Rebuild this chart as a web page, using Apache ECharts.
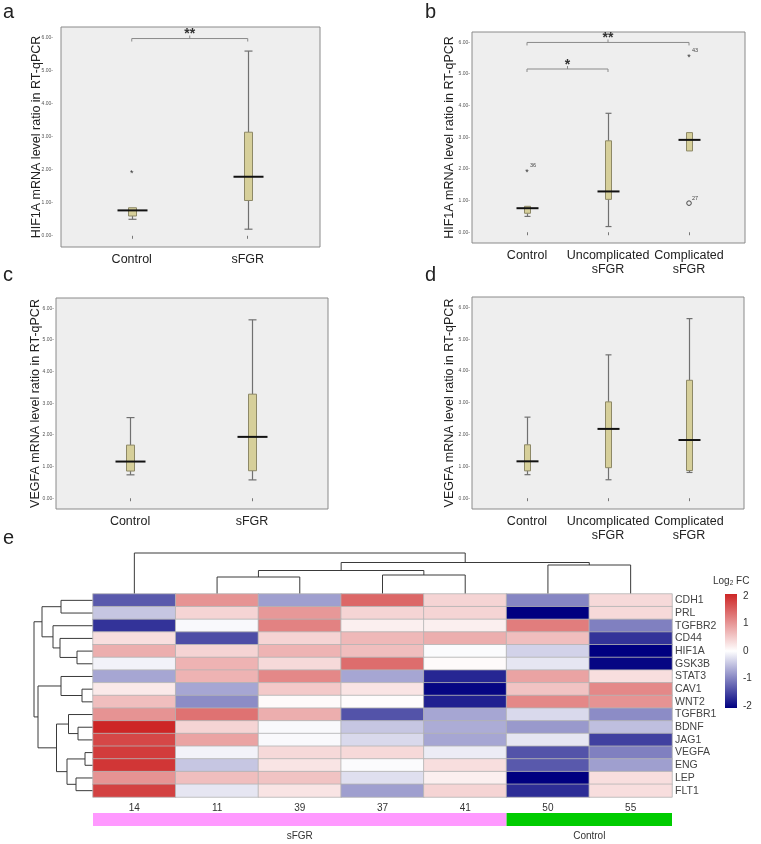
<!DOCTYPE html>
<html>
<head>
<meta charset="utf-8">
<script src="https://cdn.jsdelivr.net/npm/echarts@6/dist/echarts.min.js"></script>
<style>
html,body{margin:0;padding:0;background:#fff;}
#main{width:761px;height:844px;}
</style>
</head>
<body>
<div id="main"></div>
<script>
// ---- boxplot data: [min, Q1, median, Q3, max] ----
var cats2 = ['Control', 'sFGR'];
var cats3 = ['Control', 'Uncomplicated\nsFGR', 'Complicated\nsFGR'];
var hifBox2 = [[0.5, 0.6, 0.77, 0.85, 0.85], [0.2, 1.07, 1.79, 3.14, 5.6]];
var hifBox3 = [[0.5, 0.6, 0.76, 0.82, 0.82], [0.18, 1.04, 1.29, 2.89, 3.76], [2.57, 2.57, 2.92, 3.15, 3.15]];
var vegfBox2 = [[0.74, 0.86, 1.16, 1.68, 2.55], [0.58, 0.87, 1.94, 3.29, 5.64]];
var vegfBox3 = [[0.74, 0.86, 1.16, 1.68, 2.55], [0.58, 0.96, 2.18, 3.03, 4.51], [0.81, 0.87, 1.83, 3.71, 5.65]];
// outliers: [group, value, mark, case no.]
var hifOut2 = [[1, 1.95, '*', '']];
var hifOut3 = [[1, 1.95, '*', '36'], [3, 5.6, '*', '43'], [3, 0.92, 'o', '27']];
// significance brackets: [from, to, level, stars]
var hifSig2 = [[1, 2, 5.98, '**']];
var hifSig3 = [[1, 3, 6.0, '**'], [1, 2, 5.16, '*']];
var yTicks = [0, 1, 2, 3, 4, 5, 6];

// ---- heatmap data ----
var samples = ['14', '11', '39', '37', '41', '50', '55'];
var genes = ['CDH1', 'PRL', 'TGFBR2', 'CD44', 'HIF1A', 'GSK3B', 'STAT3', 'CAV1', 'WNT2',
  'TGFBR1', 'BDNF', 'JAG1', 'VEGFA', 'ENG', 'LEP', 'FLT1'];
var log2fc = [
  [-1.3, 1.0, -0.75, 1.4, 0.4, -0.95, 0.35],
  [-0.45, 0.4, 0.95, 0.4, 0.4, -2.0, 0.35],
  [-1.6, -0.05, 1.15, 0.15, 0.15, 1.2, -1.0],
  [0.3, -1.4, 0.4, 0.65, 0.75, 0.6, -1.6],
  [0.75, 0.4, 0.7, 0.6, -0.03, -0.35, -2.0],
  [-0.1, 0.7, 0.35, 1.35, 0.05, -0.2, -1.95],
  [-0.7, 0.7, 1.1, -0.7, -1.7, 0.85, 0.3],
  [0.2, -0.7, 0.5, 0.25, -1.95, 0.55, 1.1],
  [0.6, -0.9, 0.05, 0.03, -1.75, 1.1, 1.0],
  [1.0, 1.3, 0.75, -1.35, -0.7, -0.3, -0.9],
  [2.0, 0.4, -0.05, -0.45, -0.65, -0.8, -0.5],
  [1.7, 0.85, -0.05, -0.3, -0.7, -0.2, -1.5],
  [1.8, -0.1, 0.35, 0.35, -0.15, -1.35, -1.0],
  [1.85, -0.45, 0.25, -0.03, 0.3, -1.3, -0.75],
  [1.0, 0.6, 0.55, -0.25, 0.15, -2.0, 0.3],
  [1.75, -0.2, 0.25, -0.75, 0.4, -1.65, 0.3]
];
var groupNames = ['sFGR', 'Control'];
var groupSpans = [[0, 5], [5, 7]];
var groupColors = ['#ff99ff', '#00cc00'];
// hclust-style merges: negative = leaf (1-based), positive = earlier merge; [a, b, height]
var rowMerges = [[-13, -14, 8], [-8, -9, 11], [-11, -12, 15], [-5, -6, 16], [-15, -16, 17],
  [-10, 3, 24.5], [1, 5, 26], [-1, -2, 32], [-7, 2, 32], [-4, 4, 33], [6, 7, 36.5],
  [-3, 10, 40], [8, 12, 51], [9, 11, 55], [13, 14, 59]];
var colMerges = [[-2, -3, 17], [-4, -5, 19], [1, 2, 23.5], [-6, -7, 29], [3, 4, 31.5], [-1, 5, 41]];
var legendTicks = [-2, -1, 0, 1, 2];

var FONT = 'Liberation Sans, Arial, Helvetica, sans-serif';
var myChart = echarts.init(document.getElementById('main'), null, {renderer: 'canvas'});

function toRows(box) {
  return box.map(function (b, i) { return [i + 1].concat(b); });
}

//箱线图
function boxRender(boxW, medW) {
  return function (params, api) {
    var x = api.value(0);
    var lo = api.coord([x, api.value(1)]), q1 = api.coord([x, api.value(2)]);
    var md = api.coord([x, api.value(3)]), q3 = api.coord([x, api.value(4)]);
    var hi = api.coord([x, api.value(5)]);
    var cx = Math.round(lo[0]) + 0.5;
    var wStyle = {stroke: '#707070', lineWidth: 1.2};
    var ch = [];
    if (hi[1] < q3[1] - 0.5) {
      ch.push({type: 'line', shape: {x1: cx, y1: hi[1], x2: cx, y2: q3[1]}, style: wStyle});
      ch.push({type: 'line', shape: {x1: cx - boxW / 2, y1: hi[1], x2: cx + boxW / 2, y2: hi[1]}, style: wStyle});
    }
    if (lo[1] > q1[1] + 0.5) {
      ch.push({type: 'line', shape: {x1: cx, y1: q1[1], x2: cx, y2: lo[1]}, style: wStyle});
      ch.push({type: 'line', shape: {x1: cx - boxW / 2, y1: lo[1], x2: cx + boxW / 2, y2: lo[1]}, style: wStyle});
    }
    ch.push({type: 'rect', shape: {x: cx - boxW / 2, y: q3[1], width: boxW, height: q1[1] - q3[1]},
      style: {fill: '#d6cf9a', stroke: '#8d8866', lineWidth: 1}});
    ch.push({type: 'line', shape: {x1: cx - medW / 2, y1: md[1], x2: cx + medW / 2, y2: md[1]},
      style: {stroke: '#111', lineWidth: 2}});
    return {type: 'group', children: ch};
  };
}

function outRender(list) {
  return function (params, api) {
    var o = list[params.dataIndex];
    var p = api.coord([o[0], o[1]]);
    var ch = [];
    if (o[2] === 'o') {
      ch.push({type: 'circle', shape: {cx: p[0], cy: p[1], r: 2.3}, style: {fill: 'none', stroke: '#444', lineWidth: 1}});
    } else {
      ch.push({type: 'text', x: p[0], y: p[1] + 2, style: {text: '*', fontSize: 9, fontFamily: FONT, fill: '#333', align: 'center', verticalAlign: 'middle'}});
    }
    if (o[3]) {
      ch.push({type: 'text', x: p[0] + 3, y: p[1] - 2, style: {text: o[3], fontSize: 5.5, fontFamily: FONT, fill: '#444', align: 'left', verticalAlign: 'bottom'}});
    }
    return {type: 'group', children: ch};
  };
}

function sigRender(list) {
  return function (params, api) {
    var s = list[params.dataIndex];
    var p1 = api.coord([s[0], s[2]]), p2 = api.coord([s[1], s[2]]);
    var mx = (p1[0] + p2[0]) / 2;
    var st = {stroke: '#8a8a8a', lineWidth: 1, fill: 'none'};
    return {type: 'group', children: [
      {type: 'polyline', shape: {points: [[p1[0], p1[1] + 3], [p1[0], p1[1]], [p2[0], p2[1]], [p2[0], p2[1] + 3]]}, style: st},
      {type: 'line', shape: {x1: mx, y1: p1[1], x2: mx, y2: p1[1] - 3}, style: st},
      {type: 'text', x: mx, y: p1[1] + 3, style: {text: s[3], fontSize: 14, fontWeight: 'bold', fontFamily: FONT, fill: '#333', align: 'center', verticalAlign: 'bottom'}}
    ]};
  };
}

function boxGrid(left, top, width, height) {
  return {left: left, top: top, width: width, height: height, show: true,
    backgroundColor: '#eeeeee', borderColor: '#8a8a8a', borderWidth: 1};
}

function boxXAxis(gi, mn, mx, cats) {
  var vals = cats.map(function (c, i) { return i + 1; });
  return {gridIndex: gi, type: 'value', min: mn, max: mx,
    axisLine: {show: false}, splitLine: {show: false},
    axisTick: {show: true, customValues: vals, length: 3, lineStyle: {color: '#777'}},
    axisLabel: {customValues: vals, formatter: function (v) { return cats[Math.round(v) - 1]; },
      fontSize: 12.5, color: '#222', margin: 6, lineHeight: 14, fontFamily: FONT}};
}

function boxYAxis(gi, name, gap, labelMargin) {
  return {gridIndex: gi, type: 'value', min: -0.34, max: 6.33,
    axisLine: {show: false}, splitLine: {show: false}, axisTick: {show: false},
    axisLabel: {customValues: yTicks, formatter: function (v) { return v.toFixed(2) + '-'; },
      fontSize: 5, color: '#555', margin: labelMargin, fontFamily: FONT},
    name: name, nameLocation: 'middle', nameGap: gap, nameMoveOverlap: false,
    nameTextStyle: {fontSize: 12.5, color: '#222', fontFamily: FONT}};
}

function $each(arr, fn) { for (var i = 0; i < arr.length; i++) fn(arr[i], i); }

function dendroSegments(merges) {
  var pos = [], ht = [], segs = [];
  function get(id) { return id < 0 ? [-id - 0.5, 0] : [pos[id - 1], ht[id - 1]]; }
  $each(merges, function (m, k) {
    var a = get(m[0]), b = get(m[1]);
    segs.push([a[0], a[1], b[0], b[1], m[2]]);
    pos[k] = (a[0] + b[0]) / 2;
    ht[k] = m[2];
  });
  return segs;
}

function dendroRender(rowWise) {
  return function (params, api) {
    var pa = api.value(0), ha = api.value(1), pb = api.value(2), hb = api.value(3), h = api.value(4);
    function c(p, hh) { return api.coord(rowWise ? [hh, p] : [p, hh]); }
    return {type: 'polyline', shape: {points: [c(pa, ha), c(pa, h), c(pb, h), c(pb, hb)]},
      style: {stroke: '#3a3a3a', lineWidth: 1, fill: 'none'}};
  };
}

var heatData = [];
$each(log2fc, function (row, r) {
  $each(row, function (v, c) { heatData.push([c, r, v]); });
});

var letterStyle = {fontSize: 20, fontWeight: 'normal', color: '#222', fontFamily: FONT};

var option = {
  animation: false,
  backgroundColor: '#fff',
  textStyle: {fontFamily: FONT},
  title: [
    {text: 'a', left: 3, top: 2, padding: 0, textStyle: letterStyle},
    {text: 'b', left: 425, top: 2, padding: 0, textStyle: letterStyle},
    {text: 'c', left: 3, top: 265, padding: 0, textStyle: letterStyle},
    {text: 'd', left: 425, top: 265, padding: 0, textStyle: letterStyle},
    {text: 'e', left: 3, top: 528, padding: 0, textStyle: letterStyle},
    {text: 'Log{s|2} FC', left: 713, top: 575, padding: 0,
      textStyle: {fontSize: 10, fontWeight: 'normal', color: '#333', fontFamily: FONT,
        rich: {s: {fontSize: 6.5, verticalAlign: 'bottom', padding: [5, 0, 0, 0], fontFamily: FONT, color: '#333'}}}}
  ],
  grid: [
    boxGrid(61, 27, 259, 220),
    boxGrid(472, 32, 273, 211),
    boxGrid(56, 298, 272, 211),
    boxGrid(472, 297, 272, 212),
    {left: 93, top: 594, width: 579, height: 203},
    {left: 34, top: 594, width: 59, height: 203},
    {left: 93, top: 553, width: 579, height: 41},
    {left: 93, top: 813, width: 579, height: 13},
    {left: 725, top: 594, width: 12, height: 114}
  ],
  xAxis: [
    boxXAxis(0, 0.39, 2.623, cats2),
    boxXAxis(1, 0.321, 3.691, cats3),
    boxXAxis(2, 0.393, 2.623, cats2),
    boxXAxis(3, 0.321, 3.679, cats3),
    {gridIndex: 4, type: 'category', data: samples, position: 'bottom',
      axisLine: {show: false}, axisTick: {show: false},
      axisLabel: {interval: 0, fontSize: 10, color: '#333', margin: 6}},
    {gridIndex: 5, type: 'value', min: 0, max: 59, inverse: true, show: false},
    {gridIndex: 6, type: 'value', min: 0, max: 7, show: false},
    {gridIndex: 7, type: 'value', min: 0, max: 7, show: false},
    {gridIndex: 8, type: 'value', min: 0, max: 1, show: false}
  ],
  yAxis: [
    boxYAxis(0, 'HIF1A mRNA level ratio in RT-qPCR', 18, 8),
    boxYAxis(1, 'HIF1A mRNA level ratio in RT-qPCR', 16, 2),
    boxYAxis(2, 'VEGFA mRNA level ratio in RT-qPCR', 14, 2),
    boxYAxis(3, 'VEGFA mRNA level ratio in RT-qPCR', 16, 2),
    {gridIndex: 4, type: 'category', data: genes, inverse: true, position: 'right',
      axisLine: {show: false}, axisTick: {show: false},
      axisLabel: {interval: 0, fontSize: 10.5, color: '#444', margin: 3}},
    {gridIndex: 5, type: 'value', min: 0, max: 16, inverse: true, show: false},
    {gridIndex: 6, type: 'value', min: 0, max: 41, show: false},
    {gridIndex: 7, type: 'value', min: 0, max: 1, show: false},
    {gridIndex: 8, type: 'value', min: -2.07, max: 2.07, position: 'right',
      axisLine: {show: false}, axisTick: {show: false}, splitLine: {show: false},
      axisLabel: {customValues: legendTicks, fontSize: 10, color: '#333', margin: 6}}
  ],
  visualMap: {show: false, type: 'continuous', min: -2, max: 2, dimension: 2, seriesIndex: 12,
    inRange: {color: ['#000080', '#ffffff', '#cd2626']}},
  series: [
    {type: 'custom', xAxisIndex: 0, yAxisIndex: 0, data: toRows(hifBox2), renderItem: boxRender(8, 30)},
    {type: 'custom', xAxisIndex: 0, yAxisIndex: 0, data: hifOut2.map(function (o) { return [o[0], o[1]]; }), renderItem: outRender(hifOut2)},
    {type: 'custom', xAxisIndex: 0, yAxisIndex: 0, data: hifSig2.map(function (s) { return [s[0], s[2]]; }), renderItem: sigRender(hifSig2)},
    {type: 'custom', xAxisIndex: 1, yAxisIndex: 1, data: toRows(hifBox3), renderItem: boxRender(6, 22)},
    {type: 'custom', xAxisIndex: 1, yAxisIndex: 1, data: hifOut3.map(function (o) { return [o[0], o[1]]; }), renderItem: outRender(hifOut3)},
    {type: 'custom', xAxisIndex: 1, yAxisIndex: 1, data: hifSig3.map(function (s) { return [s[0], s[2]]; }), renderItem: sigRender(hifSig3)},
    {type: 'custom', xAxisIndex: 2, yAxisIndex: 2, data: toRows(vegfBox2), renderItem: boxRender(8, 30)},
    {type: 'custom', xAxisIndex: 3, yAxisIndex: 3, data: toRows(vegfBox3), renderItem: boxRender(6, 22)},
    {type: 'custom', xAxisIndex: 5, yAxisIndex: 5, data: dendroSegments(rowMerges), renderItem: dendroRender(true)},
    {type: 'custom', xAxisIndex: 6, yAxisIndex: 6, data: dendroSegments(colMerges), renderItem: dendroRender(false)},
    {type: 'custom', xAxisIndex: 7, yAxisIndex: 7, data: groupSpans,
      renderItem: function (params, api) {
        var p1 = api.coord([api.value(0), 1]), p2 = api.coord([api.value(1), 0]);
        return {type: 'group', children: [
          {type: 'rect', shape: {x: p1[0], y: p1[1], width: p2[0] - p1[0], height: p2[1] - p1[1]},
            style: {fill: groupColors[params.dataIndex]}},
          {type: 'text', x: (p1[0] + p2[0]) / 2, y: p2[1] + 10,
            style: {text: groupNames[params.dataIndex], fontSize: 10, fontFamily: FONT, fill: '#333', align: 'center', verticalAlign: 'middle'}}
        ]};
      }},
    {type: 'custom', xAxisIndex: 8, yAxisIndex: 8, data: [[0, 2.07, 1, -2.07]],
      renderItem: function (params, api) {
        var p1 = api.coord([api.value(0), api.value(1)]), p2 = api.coord([api.value(2), api.value(3)]);
        return {type: 'rect', shape: {x: p1[0], y: p1[1], width: p2[0] - p1[0], height: p2[1] - p1[1]},
          style: {fill: new echarts.graphic.LinearGradient(0, 0, 0, 1, [
            {offset: 0, color: '#cd2626'}, {offset: 0.5, color: '#ffffff'}, {offset: 1, color: '#000080'}])}};
      }},
    {type: 'heatmap', xAxisIndex: 4, yAxisIndex: 4, data: heatData,
      itemStyle: {borderColor: '#b4b4b4', borderWidth: 0.8}}
  ]
};
myChart.setOption(option);
</script>
</body>
</html>
